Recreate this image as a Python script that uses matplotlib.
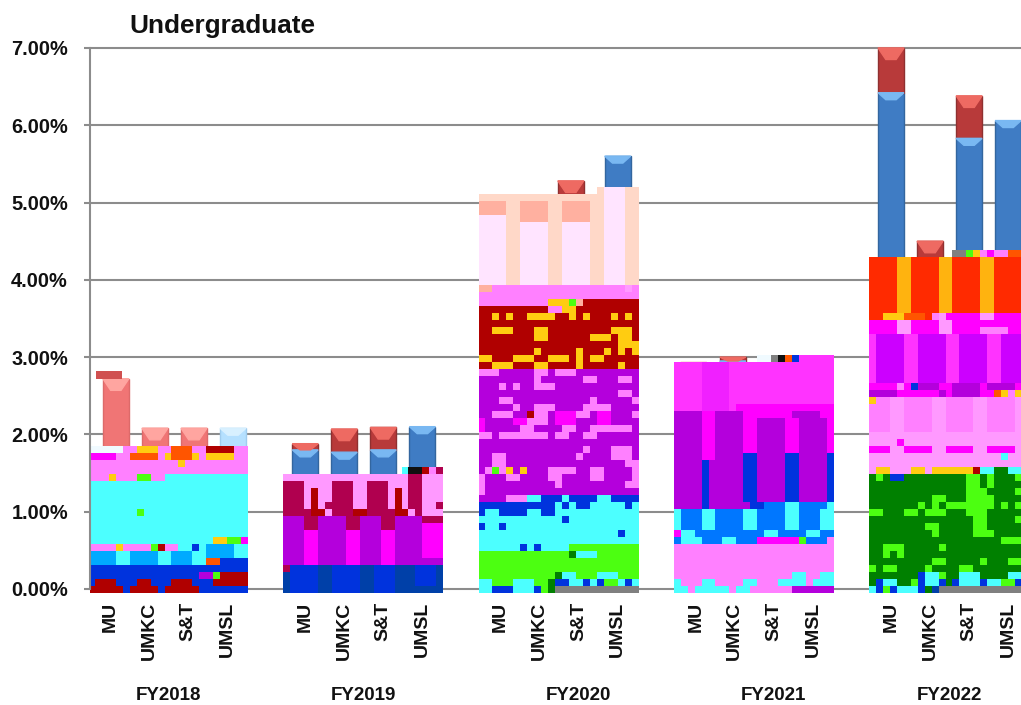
from matplotlib import pyplot as plt
from matplotlib.colors import ListedColormap
import numpy as np

plt.rcParams['font.family'] = ['Liberation Sans', 'DejaVu Sans']

years = ["FY2018", "FY2019", "FY2020", "FY2021", "FY2022"]
campuses = ["MU", "UMKC", "S&T", "UMSL"]
y_ticks = [0, 1, 2, 3, 4, 5, 6, 7]

# values in percent, one list per year
blue_2018 = [0, 0, 0, 2.08]
red_2018 = [2.72, 2.08, 2.08, 0]
blue_2019 = [1.80, 1.77, 1.80, 2.10]
red_2019 = [0.08, 0.30, 0.29, 0]
blue_2020 = [4.83, 4.78, 4.80, 5.60]
red_2020 = [0.25, 0.30, 0.48, 0]
blue_2021 = [2.33, 2.95, 2.23, 2.40]
red_2021 = [0.60, 0.05, 0.75, 0.60]
blue_2022 = [6.42, 3.55, 5.83, 6.06]
red_2022 = [0.58, 0.95, 0.55, 0]

# the scrambled blocks over the bars, read row by row from the top, one letter a cell
palette = {
    '.': '#FFFFFF', 'w': '#F0FAFF', 'p': '#FF80FF', 'P': '#FF99FF', 'm': '#FF00FF',
    'M': '#FF33FF', 'V': '#B400DC', 'v': '#CC00FF', 'c': '#4CFFFF', 'l': '#00AAFF',
    'a': '#0077FF', 'B': '#0033DD', 'N': '#0040A8', 'R': '#B00000', 'D': '#B0004F',
    'O': '#FF5500', 'r': '#FF2A00', 'Y': '#FFCC11', 'y': '#FFB30F', 'G': '#4CFF11',
    'g': '#008000', 'E': '#808080', 'K': '#101010', 'Q': '#FFD8C8', 'L': '#FFE4FF',
    'S': '#FFB0A0', 'f': '#F020FF',
}

cells_2018 = [
    "wwwwwppYYYppOOOppRRRRpp", "mmmmppOOOOpYOOOYpYYYYpp", "pppppppppppppYppppppppp",
    "ppppppppppppppppppppppp", "pppYpppGGppcccccccccccc", "ccccccccccccccccccccccc",
    "ccccccccccccccccccccccc", "ccccccccccccccccccccccc", "ccccccccccccccccccccccc",
    "cccccccGccccccccccccccc", "ccccccccccccccccccccccc", "ccccccccccccccccccccccc",
    "ccccccccccccccccccccccc", "ccccccccccccccccccYYGGm", "ppppYppppGRppccBcllllcc",
    "llllccllllcclllccllllcc", "llllccllllcclllccOOBBBB", "BBBBBBBBBBBBBBBBBBBBBBB",
    "BBBBBBBBBBBBBBBBVVGRRRR", "BRRRBBBRRBBBRRRBBBRRRRR", "RRRRRBRRRRBRRRRRBBBBBBB",
]
cells_2019 = [
    ".................cKKRpD", "PPPPPPPPPPPPPPPPPPDDPPP", "DDDPPPPDDDPPDDDPPPDDPPP",
    "DDDPRPPDDDPPDDDPRPDDPPP", "DDDPRPPDDDPPDDDPRPDDPPP", "DDDPRPDDDDPPDDDPRPDDPPD",
    "DDDDRRPDDDRRDDDDRRPDPPP", "VVVDDVVVVDDVVVDDVVVVDDD", "VVVDDVVVVDDVVVDDVVVVmmm",
    "VVVmmVVVVmmVVVmmVVVVmmm", "VVVmmVVVVmmVVVmmVVVVmmm", "VVVmmVVVVmmVVVmmVVVVmmm",
    "VVVmmVVVVmmVVVmmVVVVmmm", "VVVmmVVVVmmVVVmmVVVVVVV", "DBBBBNNBBBBNNBBBNNNBBBN",
    "NBBBBNNBBBBNNBBBNNNBBBN", "NBBBBNNBBBBNNBBBNNNBBBN", "NBBBBNNBBBBNNBBBNNNNNNN",
]
cells_2020 = [
    ".................QLLLQQ", "QQQQQQQQQQQQQQQQQQLLLQQ", "SSSSQQSSSSQQSSSSQQLLLQQ",
    "SSSSQQSSSSQQSSSSQQLLLQQ", "LLLLQQSSSSQQSSSSQQLLLQQ", "LLLLQQLLLLQQLLLLQQLLLQQ",
    "LLLLQQLLLLQQLLLLQQLLLQQ", "LLLLQQLLLLQQLLLLQQLLLQQ", "LLLLQQLLLLQQLLLLQQLLLQQ",
    "LLLLQQLLLLQQLLLLQQLLLQQ", "LLLLQQLLLLQQLLLLQQLLLQQ", "LLLLQQLLLLQQLLLLQQLLLQQ",
    "LLLLQQLLLLQQLLLLQQLLLQQ", "LLLLQQLLLLQQLLLLQQLLLQQ", "SSpppppppppppppppppppPp",
    "ppppppppppppppppppppppp", "ppppppppppYYYGSRRRRRRRR", "RRRRRRRRRRppYYRRRRRRRRR",
    "RRYRYRRYYYYRRYRYRRRYRYR", "RRRRRRRRRRRRRRRRRRRRRRR", "RRYYYRRRYYRRRRRRRRRYYYR",
    "RRRRRRRRYYRRRRRRYYYRYYR", "RRRRRRRRRRRRRRRRRRRRYYY", "RRRRRRRRYRRRRRYRRRYRYRY",
    "YYRRRYYYRRYYYRYRYYRRRRR", "RRYYYRRRYYRRRRYRRRRRYRR", "pppVVVVVppVpppVVVVVVVVV",
    "VVVVVVVVpVVVVVVppVVVppV", "VVVpVpVVpppVVVVVVVVVVVV", "VVVVVVVVVVVVVVVVVVVVppV",
    "VVVppVVVVVVVVVVVpVVVVVp", "VVVVVpVVpppVVVVppppVVVV", "VVpppVVRppVmmmppVmmVVVp",
    "mVVVVmmpppVmmmVVVmmVVVV", "mVVVVVppVVVVppVVppppppV", "ppVpppppppVppVVppVVVVVV",
    "VVVVVVVVVVVVVVVVVVVVVVV", "VVVVVVVVVVVVVVVpVVVpppV", "VVppVVVVVVVVVVpVVVVpppV",
    "VVppVVVVVVVVVVVVVVVVVpp", "VpGpYVYVVVppppVVppVVVVp", "pVVVppVVVVppVVVVppVVVVp",
    "pVVVVVVVVVVpVVVVVVVVVpp", "pVVVVVVVVVVVVVVVVVVVVVV", "VVVVpppccBBBcBBBBccBBBB",
    "BBBBBBBBBBBcBcBBcccccBc", "BccBBBBccBBcccccccccccc", "ccccccccccccBcccccccccc",
    "BccBccccccccccccccccccc", "ccccccccccccccccccccBcc", "ccccccccccccccccccccccc",
    "ccccccBcBccccGGGGGGGGGG", "GGGGGGGGGGGGGgcccGGGGGG", "GGGGGGGGGGGGGGGGGGGGGGG",
    "GGGGGGGGGGGGGGGGGGGGGGG", "GGGGGGGGGGGgccGGGcccGGG", "ccGGGcccGGgBBccBcBGGcBc",
    "ccBBBcccBGgEEEEEEEEEEEE",
]
cells_2021 = [
    "............wwEKOBMMMMM", "MMMMffffMMMMMMMMMMMMMMM", "MMMMffffMMMMMMMMMMMMMMM",
    "MMMMffffMMMMMMMMMMMMMMM", "MMMMffffMMMMMMMMMMMMMMM", "MMMMffffMMMMMMMMMMMMMMM",
    "MMMMffffMMMMMMMMMMMMMMM", "MMMMffffMmmmmmmmmmmmmmm", "VVVVmmVVVVmmmmmmmVVVVmm",
    "VVVVmmVVVVmmVVVVmmVVVVm", "VVVVmmVVVVmmVVVVmmVVVVm", "VVVVmmVVVVmmVVVVmmVVVVm",
    "VVVVmmVVVVmmVVVVmmVVVVm", "VVVVmmVVVVmmVVVVmmVVVVm", "VVVVmmVVVVBBVVVVBBVVVVB",
    "VVVVBVVVVVBBVVVVBBVVVVB", "VVVVBVVVVVBBVVVVBBVVVVB", "VVVVBVVVVVBBVVVVBBVVVVB",
    "VVVVBVVVVVBBVVVVBBVVVVB", "VVVVBVVVVVBBVVVVBBVVVVB", "VVVVBVVVVVBBVVVVBBVVVVB",
    "VVVVBVVVVVVBBaaaccaaaac", "caaaccaaaaccaaaaccaaacc", "caaaccaaaaccaaaaccaaacc",
    "caaaccaaaaccaaaaccaaacc", "mccaaaaaaaaaaccaaaaccaa", "acccaaaccaaammmmmmGaaap",
    "ppppppppppppppppppppppp", "ppppppppppppppppppppppp", "ppppppppppppppppppppppp",
    "ppppppppppppppppppppppp", "pppppppppppppppppccppcc", "cpppccppppccpppccccpccc",
    "ccpcccccpccppppppVVVVVV",
]
cells_2022 = [
    "............EEGYpmppOOy", "rrrryyrrrryyrrrryyrrrry", "rrrryyrrrryyrrrryyrrrry",
    "rrrryyrrrryyrrrryyrrrry", "rrrryyrrrryyrrrryyrrrry", "rrrryyrrrryyrrrryyrrrry",
    "rrrryyrrrryyrrrryyrrrry", "rrrryyrrrryyrrrryyrrrry", "rrrryyrrrryyrrrryyrrrry",
    "rrYYYOOOrpPmmmmmPPmmmmP", "mmmmPPmmmmPPmmmmmmmmmmm", "mmmmPPmmmmPPmmmmppppmmm",
    "MvvvvMMvvvvMMvvvvMMvvvv", "MvvvvMMvvvvMMvvvvMMvvvv", "MvvvvMMvvvvMMvvvvMMvvvv",
    "MvvvvMMvvvvMMvvvvMMvvvv", "MvvvvMMvvvvMMvvvvMMvvvv", "MvvvvMMvvvvMMvvvvMMvvvv",
    "MvvvvMMvvvvMMvvvvMMvvvv", "mmmmpmBVVVmmVVVVmVVVVmm", "VVVVmmmmmmVmVVVVmmOYpYp",
    "YppPPppppPPppppPPppppPP", "pppPPppppPPppppPPppppPP", "pppPPppppPPppppPPppppPP",
    "pppPPppppPPppppPPppppPP", "pppPPppppPPppppPPppppPP", "PPPPPPPPPPPPPPPPPPPPPPP",
    "PPPPmPPPPPPPPPPPPPPPPPP", "mmmPPmmmmPPmmmmPPmmmmPP", "PPPPPPPPPPPPPPPPPPPcPPP",
    "PPPPPPPPPPPPPPPPPPPPPPP", "PYYPPPYYPYYYYYYRccggccc", "gGgBBgggggggggGGgGgggGG",
    "ggggggggggggggGGgGggggg", "ggggggggggggggGGGggggGG", "gggggggggGGgggGGGGggggg",
    "gggggggGgGgGGGGGGGgGgGG", "GGgggGGgGGGgggGGGgggggg", "gggggggggggggggGGggggGG",
    "ggggggggGGgggggGGgggggg", "gggggggggGgggggGGGggggg", "gggggggggggggggggggGGGG",
    "ggGGGgggggGgggggggggggg", "ggGgGgggggggggggggggggg", "gggggggggGGgggggGgggGGG",
    "GgGGggggGggggGGgggggggg", "gggggggBccGggcccggggccg", "gBccggGBccBgBcccBccGGBc",
    "cBGBcccBgNEEEEEEEEEEEEE",
]

W, H = 1021, 705
PX_X = 39.05   # pixels per category slot
PX_Y = 77.3    # pixels per percent
Y0 = 589       # pixel row of 0.00%
X0 = 110       # pixel column of the first category
N_COLS = 23

strong_blue = ('#3F7CC4', '#79B8F2', '#33669F')
strong_red = ('#B83A3A', '#EE6A62', '#8F3030')
pale_blue = ('#B5E0FF', '#D8F0FF', '#A0CCEE')
pale_red = ('#F07575', '#FFA5A0', '#DD6A6A')


def draw_bars(ax, xs, blue, red, blue_style, red_style):
    width = 0.665
    for x, b, r in zip(xs, blue, red):
        for base, h, (body, cap, edge), depth in ((0, b, blue_style, 0.09), (b, r, red_style, 0.15)):
            if h <= 0:
                continue
            ax.bar(x, h, width, bottom=base, color=body, edgecolor=edge, linewidth=1, zorder=1.5)
            top = base + h
            dip = min(depth, h)
            ax.fill([x - width / 2, x + width / 2, x + width / 5, x - width / 5],
                    [top, top, top - dip, top - dip], color=cap, zorder=1.6)


def draw_cells(ax, x_left, rows, cmap, letters):
    cell_w = 160 / N_COLS / PX_X
    cell_h = 7.0 / PX_Y
    bottom = -3.7 / PX_Y
    grid = np.array([[letters.index(ch) for ch in r.ljust(N_COLS, r[-1])[:N_COLS]] for r in rows[::-1]])
    grid = np.ma.masked_equal(grid, letters.index('.'))
    xe = x_left + cell_w * np.arange(N_COLS + 1)
    ye = bottom + cell_h * np.arange(len(rows) + 1)
    ax.pcolormesh(xe, ye, grid, cmap=cmap, vmin=0, vmax=len(letters) - 1, zorder=2)


def graph_undergraduate():
    fig = plt.figure(figsize=(W / 100, H / 100), dpi=100)
    top_px, bottom_px = 40, 600
    ax = fig.add_axes([89.5 / W, 1 - bottom_px / H, 1 - 89.5 / W, (bottom_px - top_px) / H])
    ax.set_xlim((89.5 - X0) / PX_X, (W - X0) / PX_X)
    ax.set_ylim((Y0 - bottom_px) / PX_Y, (Y0 - top_px) / PX_Y)

    letters = list(palette)
    cmap = ListedColormap([palette[k] for k in letters])

    blues = [blue_2018, blue_2019, blue_2020, blue_2021, blue_2022]
    reds = [red_2018, red_2019, red_2020, red_2021, red_2022]
    cells = [cells_2018, cells_2019, cells_2020, cells_2021, cells_2022]
    shifts = [[0.15] * 4, [0] * 4, [-0.2, -0.2, -0.2, 0], [-0.05] * 4, [0] * 4]
    label_shift = [0, 0, 0.5, 0.5, 0]

    ticks, tick_labels = [], []
    for i, year in enumerate(years):
        x = 5 * i + np.arange(len(campuses))
        ticks.extend(x)
        tick_labels.extend(campuses)
        styles = (pale_blue, pale_red) if i == 0 else (strong_blue, strong_red)
        draw_bars(ax, x + np.array(shifts[i]), blues[i], reds[i], *styles)
        draw_cells(ax, x[0] - 22 / PX_X, cells[i], cmap, letters)
        ax.text(x.mean() + label_shift[i], -107 / PX_Y, year, ha='center', va='center',
                fontsize=13.5, fontweight='bold', color='#111111', clip_on=False)

    # darker knock on the FY2018 MU bar top
    ax.bar(-0.03, 0.10, 0.665, bottom=2.72, color='#D05050', zorder=1.7)

    ax.set_yticks(y_ticks)
    ax.set_yticklabels([f"{v:.2f}%" for v in y_ticks], fontsize=14.4, fontweight='bold', color='#111111')
    ax.set_xticks(ticks)
    ax.set_xticklabels(tick_labels, rotation=90, fontsize=14, fontweight='bold', color='#111111')
    ax.tick_params(axis='y', length=4.5, width=1.5, color='#8C8C8C', pad=11)
    ax.tick_params(axis='x', length=0, pad=1)
    ax.yaxis.grid(True, color='#8C8C8C', linewidth=1.5)
    ax.set_axisbelow(True)

    for side in ('top', 'right', 'bottom'):
        ax.spines[side].set_visible(False)
    ax.spines['left'].set_bounds(0, 7)
    ax.spines['left'].set_color('#8C8C8C')
    ax.spines['left'].set_linewidth(1.5)
    ax.spines['left'].set_zorder(3)

    fig.text(129 / W, 1 - 26 / H, "Undergraduate", ha='left', va='center', fontsize=18.8,
             fontweight='bold', color='#111111')
    fig.savefig('out.png', dpi=100)
    plt.close(fig)


if __name__ == '__main__':
    graph_undergraduate()
